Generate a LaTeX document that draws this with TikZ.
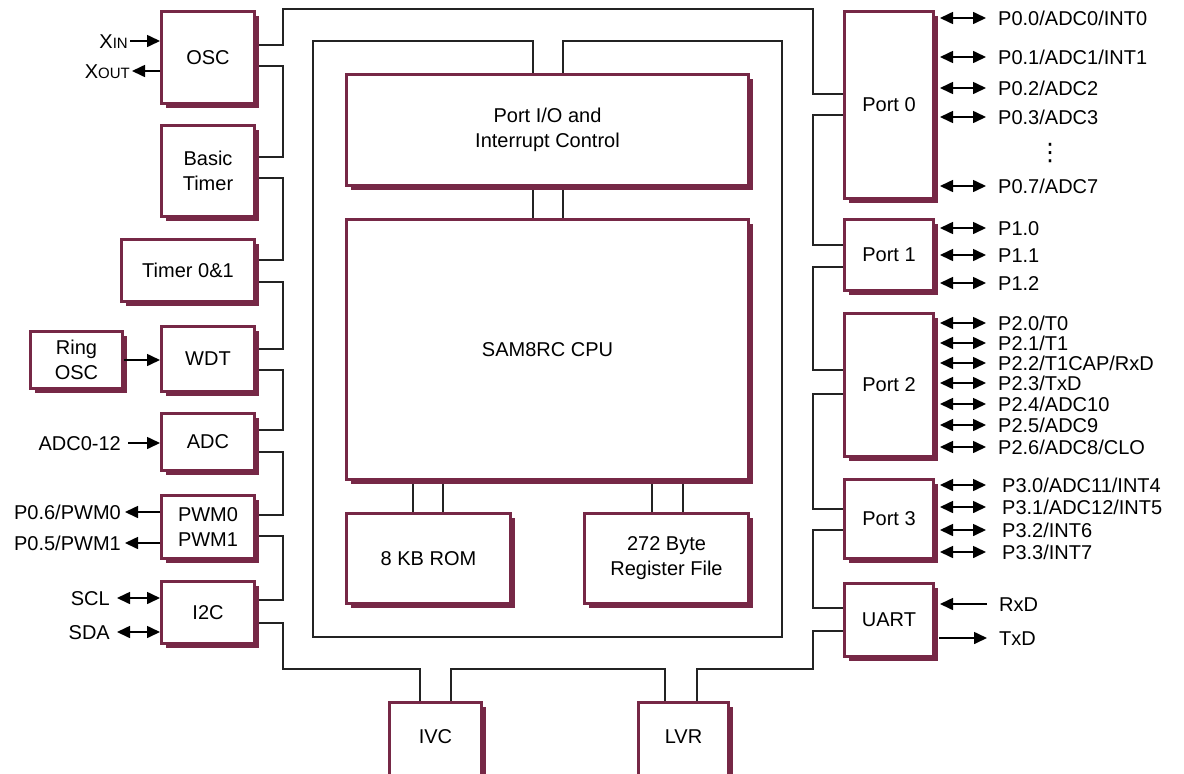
\documentclass[tikz,border=0pt]{standalone}
\usepackage{fontspec}
\setmainfont{Liberation Sans}
\newfontfamily\dejavu{DejaVu Sans}
\usetikzlibrary{arrows.meta,shadows,backgrounds}
\definecolor{boxc}{RGB}{118,40,70}
\definecolor{busc}{RGB}{35,35,35}
\begin{document}
\begin{tikzpicture}[x=1pt,y=-1pt,
  blk/.style={draw=boxc, line width=3pt, fill=white, inner sep=0pt, align=center,
    font=\fontsize{20}{25}\selectfont,
    drop shadow={shadow xshift=4.5pt, shadow yshift=-4.5pt, fill=boxc, opacity=1}},
  txt/.style={inner sep=0pt, align=center, font=\fontsize{20}{25}\selectfont},
  bus/.style={draw=busc, line width=1.4pt},
  arr/.style={line width=1.6pt, -{Triangle[length=13pt,width=12pt]}},
  darr/.style={line width=1.6pt, {Triangle[length=13pt,width=12pt]}-{Triangle[length=13pt,width=12pt]}},
  lbl/.style={inner sep=0pt, font=\fontsize{20}{24}\selectfont, text height=14.3pt, text depth=0pt}]
\useasboundingbox (0,0) rectangle (1184,774);

% ---------- blocks ----------
\node[blk, minimum width=93pt, minimum height=92pt] (osc) at (208,57.5) {OSC};
\node[blk, minimum width=93pt, minimum height=91pt] (bt) at (208,171) {Basic\\Timer};
\node[blk, minimum width=133pt, minimum height=62pt] (t01) at (188,270.5) {Timer 0\&1};
\node[blk, minimum width=92pt, minimum height=57pt] (ring) at (76.5,360) {Ring\\OSC};
\node[blk, minimum width=93pt, minimum height=65pt] (wdt) at (208,359) {WDT};
\node[blk, minimum width=93pt, minimum height=57pt] (adc) at (208,442) {ADC};
\node[blk, minimum width=93pt, minimum height=63pt] (pwm) at (208,527) {PWM0\\PWM1};
\node[blk, minimum width=93pt, minimum height=62pt] (i2c) at (208,612.5) {I2C};

\node[blk, minimum width=402pt, minimum height=111pt] (pio) at (547.5,130) {Port I/O and\\Interrupt Control};
\node[blk, minimum width=402pt, minimum height=260pt] (cpu) at (547.5,349.5) {SAM8RC CPU};
\node[blk, minimum width=164pt, minimum height=90pt] (rom) at (428.5,558.5) {8 KB ROM};
\node[blk, minimum width=164pt, minimum height=90pt] (reg) at (666.5,558.5) {272 Byte\\Register File};

\node[blk, minimum width=92pt, minimum height=87pt] (ivc) at (435.5,746) {};
\node[txt] at (ivc.north |- 0,737) {IVC};
\node[blk, minimum width=90pt, minimum height=87pt] (lvr) at (683.5,746) {};
\node[txt] at (lvr.north |- 0,737) {LVR};

\node[blk, minimum width=89pt, minimum height=187pt] (p0) at (889,105) {Port 0};
\node[blk, minimum width=89pt, minimum height=71pt] (p1) at (889,255) {Port 1};
\node[blk, minimum width=89pt, minimum height=143pt] (p2) at (889,385) {Port 2};
\node[blk, minimum width=89pt, minimum height=79pt] (p3) at (889,519) {Port 3};
\node[blk, minimum width=89pt, minimum height=73pt] (uart) at (889,620) {UART};

% ---------- bus lines ----------
\begin{pgfonlayer}{background}
\fill[white] (0,0) rectangle (1184,774);
\draw[bus] (osc.east|-0,45) -| (283,9) -| (813,94) -- (p0.west|-0,94);
\draw[bus] (osc.east|-0,66) -| (283,157) -- (bt.east|-0,157);
\draw[bus] (bt.east|-0,178) -| (283,260) -- (t01.east|-0,260);
\draw[bus] (t01.east|-0,282) -| (283,349) -- (wdt.east|-0,349);
\draw[bus] (wdt.east|-0,370) -| (283,430) -- (adc.east|-0,430);
\draw[bus] (adc.east|-0,452) -| (283,515) -- (pwm.east|-0,515);
\draw[bus] (pwm.east|-0,536) -| (283,600) -- (i2c.east|-0,600);
\draw[bus] (i2c.east|-0,623) -| (283,669) -| (ivc.north -| 420,0);
\draw[bus] (ivc.north -| 451,0) |- (665,669) -- (lvr.north -| 665,0);
\draw[bus] (lvr.north -| 697,0) |- (813,669) |- (uart.west|-0,631);
\draw[bus] (uart.west|-0,608) -| (813,530) -- (p3.west|-0,530);
\draw[bus] (p3.west|-0,509) -| (813,394) -- (p2.west|-0,394);
\draw[bus] (p2.west|-0,370) -| (813,267) -- (p1.west|-0,267);
\draw[bus] (p1.west|-0,245) -| (813,115) -- (p0.west|-0,115);
% inner bus
\draw[bus] (pio.north -| 533,0) |- (313,41) |- (782,637) |- (563,41) -- (pio.north -| 563,0);
\draw[bus] (pio.south -| 533,0) -- (cpu.north -| 533,0);
\draw[bus] (pio.south -| 563,0) -- (cpu.north -| 563,0);
\draw[bus] (cpu.south -| 413,0) -- (rom.north -| 413,0);
\draw[bus] (cpu.south -| 443,0) -- (rom.north -| 443,0);
\draw[bus] (cpu.south -| 652,0) -- (reg.north -| 652,0);
\draw[bus] (cpu.south -| 683,0) -- (reg.north -| 683,0);
\end{pgfonlayer}

% ---------- left signals ----------
\node[lbl, anchor=east] (xin) at (128,41) {X{\fontsize{15}{15}\selectfont IN}};
\draw[arr, shorten <=2pt] (xin.east) -- (osc.west|-xin.east);
\node[lbl, anchor=east] (xout) at (130,71) {X{\fontsize{15}{15}\selectfont OUT}};
\draw[arr, shorten >=2pt] (osc.west|-xout.east) -- (xout.east);
\draw[arr] (ring.east) -- (wdt.west|-ring.east);
\node[lbl, anchor=east] (adcin) at (121,443) {ADC0-12};
\draw[arr, shorten <=7pt] (adcin.east) -- (adc.west|-adcin.east);
\node[lbl, anchor=east] (pwm0) at (121,512) {P0.6/PWM0};
\draw[arr, shorten >=4pt] (pwm.west|-pwm0.east) -- (pwm0.east);
\node[lbl, anchor=east] (pwm1) at (121,543) {P0.5/PWM1};
\draw[arr, shorten >=4pt] (pwm.west|-pwm1.east) -- (pwm1.east);
\node[lbl, anchor=east] (scl) at (110,598) {SCL};
\draw[darr, shorten <=7pt] (scl.east) -- (i2c.west|-scl.east);
\node[lbl, anchor=east] (sda) at (110,632) {SDA};
\draw[darr, shorten <=7pt] (sda.east) -- (i2c.west|-sda.east);

% ---------- right signals ----------
\tikzset{rd/.style={darr, shorten <=5pt, shorten >=12pt}}
\node[lbl, anchor=west] (r00) at (998,18) {P0.0/ADC0/INT0};
\draw[rd] (p0.east|-r00.west) -- (r00.west);
\node[lbl, anchor=west] (r01) at (998,57) {P0.1/ADC1/INT1};
\draw[rd] (p0.east|-r01.west) -- (r01.west);
\node[lbl, anchor=west] (r02) at (998,88) {P0.2/ADC2};
\draw[rd] (p0.east|-r02.west) -- (r02.west);
\node[lbl, anchor=west] (r03) at (998,117) {P0.3/ADC3};
\draw[rd] (p0.east|-r03.west) -- (r03.west);
\node[inner sep=0pt, font=\dejavu\fontsize{24}{24}\selectfont] (dots) at (1050,153) {⋮};
\node[lbl, anchor=west] (r07) at (998,186) {P0.7/ADC7};
\draw[rd] (p0.east|-r07.west) -- (r07.west);

\node[lbl, anchor=west] (r10) at (998,228) {P1.0};
\draw[rd] (p1.east|-r10.west) -- (r10.west);
\node[lbl, anchor=west] (r11) at (998,255) {P1.1};
\draw[rd] (p1.east|-r11.west) -- (r11.west);
\node[lbl, anchor=west] (r12) at (998,283) {P1.2};
\draw[rd] (p1.east|-r12.west) -- (r12.west);

\node[lbl, anchor=west] (r20) at (998,323) {P2.0/T0};
\draw[rd] (p2.east|-r20.west) -- (r20.west);
\node[lbl, anchor=west] (r21) at (998,343) {P2.1/T1};
\draw[rd] (p2.east|-r21.west) -- (r21.west);
\node[lbl, anchor=west] (r22) at (998,363) {P2.2/T1CAP/RxD};
\draw[rd] (p2.east|-r22.west) -- (r22.west);
\node[lbl, anchor=west] (r23) at (998,383) {P2.3/TxD};
\draw[rd] (p2.east|-r23.west) -- (r23.west);
\node[lbl, anchor=west] (r24) at (998,404) {P2.4/ADC10};
\draw[rd] (p2.east|-r24.west) -- (r24.west);
\node[lbl, anchor=west] (r25) at (998,425) {P2.5/ADC9};
\draw[rd] (p2.east|-r25.west) -- (r25.west);
\node[lbl, anchor=west] (r26) at (998,447) {P2.6/ADC8/CLO};
\draw[rd] (p2.east|-r26.west) -- (r26.west);

\node[lbl, anchor=west] (r30) at (1002,485) {P3.0/ADC11/INT4};
\draw[rd, shorten >=16pt] (p3.east|-r30.west) -- (r30.west);
\node[lbl, anchor=west] (r31) at (1002,507) {P3.1/ADC12/INT5};
\draw[rd, shorten >=16pt] (p3.east|-r31.west) -- (r31.west);
\node[lbl, anchor=west] (r32) at (1002,530) {P3.2/INT6};
\draw[rd, shorten >=16pt] (p3.east|-r32.west) -- (r32.west);
\node[lbl, anchor=west] (r33) at (1002,552) {P3.3/INT7};
\draw[rd, shorten >=16pt] (p3.east|-r33.west) -- (r33.west);

\node[lbl, anchor=west] (rxd) at (999,604) {RxD};
\draw[arr, shorten <=12pt, shorten >=5pt] (rxd.west) -- (uart.east|-rxd.west);
\node[lbl, anchor=west] (txd) at (999,638) {TxD};
\draw[arr, shorten <=4pt, shorten >=12pt] (uart.east|-txd.west) -- (txd.west);
\end{tikzpicture}
\end{document}
